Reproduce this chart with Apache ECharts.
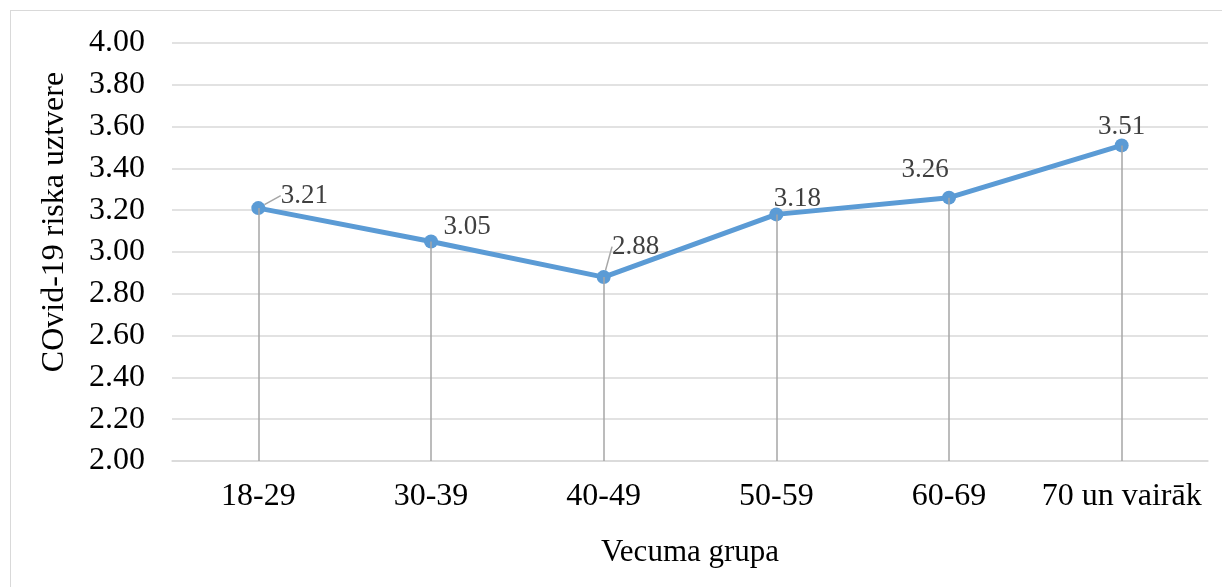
<!DOCTYPE html>
<html>
<head>
<meta charset="utf-8">
<script src="https://cdn.jsdelivr.net/npm/echarts@6/dist/echarts.min.js"></script>
<style>
  html, body { margin: 0; padding: 0; background: #fff; }
  #frame { position: absolute; left: 10px; top: 10px; width: 1220px; height: 590px; border: 1px solid #d9d9d9; }
  #chart { position: absolute; left: 0; top: 0; width: 1222px; height: 587px; }
</style>
</head>
<body>
<div id="frame"></div>
<div id="chart"></div>
<script>
const ageGroups = ['18-29', '30-39', '40-49', '50-59', '60-69', '70 un vairāk']
const riskValues = [3.21, 3.05, 2.88, 3.18, 3.26, 3.51]
const yTicks = { min: 2, max: 4, step: 0.2 }

// label placement tweaks, one per point (pixels)
const labelOffsets = [[46, 13], [36, 11], [32, -5], [21, 10], [-24, -2], [0, 7]]
const leaderLines = [true, false, true, false, false, false]

const chart = echarts.init(document.getElementById('chart'))

chart.setOption({
  animation: false,
  textStyle: { fontFamily: 'Liberation Serif' },
  grid: { left: 172, right: 14, top: 43, bottom: 126 },
  xAxis: {
    type: 'category',
    data: ageGroups,
    name: 'Vecuma grupa',
    nameLocation: 'middle',
    nameGap: 76,
    nameTextStyle: { fontSize: 31, color: '#000', fontFamily: 'Liberation Serif' },
    axisLine: { lineStyle: { color: '#d9d9d9', width: 1.5 } },
    axisTick: { show: false },
    axisLabel: { interval: 0, fontSize: 32, color: '#000', margin: 20, fontFamily: 'Liberation Serif' },
  },
  yAxis: {
    type: 'value',
    min: yTicks.min,
    max: yTicks.max,
    interval: yTicks.step,
    name: 'COvid-19 riska uztvere',
    nameLocation: 'middle',
    nameGap: 101,
    nameTextStyle: { fontSize: 32, color: '#000', fontFamily: 'Liberation Serif', padding: [0, 0, 0, 60] },
    axisLine: { show: false },
    axisTick: { show: false },
    axisLabel: {
      fontSize: 32, color: '#000', margin: 27, fontFamily: 'Liberation Serif',
      formatter: v => v.toFixed(2),
    },
    splitLine: { lineStyle: { color: '#d9d9d9', width: 1.5 } },
  },
  series: [
    {
      type: 'line',
      data: riskValues.map((v, i) => ({
        value: v,
        labelLine: { show: leaderLines[i] },
      })),
      symbol: 'circle',
      symbolSize: 14,
      lineStyle: { color: '#5b9bd5', width: 5 },
      itemStyle: { color: '#5b9bd5' },
      label: {
        show: true,
        position: 'top',
        distance: 5,
        fontSize: 27,
        color: '#404040',
        fontFamily: 'Liberation Serif',
        formatter: p => p.value.toFixed(2),
      },
      labelLine: { lineStyle: { color: '#a6a6a6', width: 1.5 } },
      labelLayout: p => ({ dx: labelOffsets[p.dataIndex][0], dy: labelOffsets[p.dataIndex][1] }),
      markLine: {
        silent: true,
        symbol: 'none',
        label: { show: false },
        lineStyle: { color: '#a6a6a6', width: 1.5, type: 'solid' },
        data: riskValues.map((v, i) => [
          { coord: [ageGroups[i], yTicks.min] },
          { coord: [ageGroups[i], v] },
        ]),
      },
      z: 3,
    },
  ],
})
</script>
</body>
</html>
